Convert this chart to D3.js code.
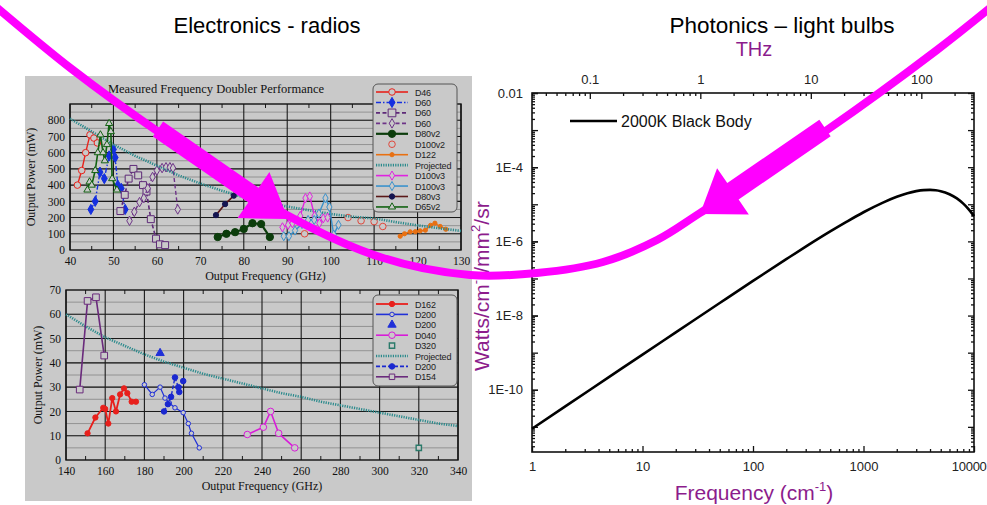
<!DOCTYPE html>
<html>
<head>
<meta charset="utf-8">
<script src="https://cdn.jsdelivr.net/npm/d3@7"></script>
<style>
  body { margin: 0; background: #fff; }
  svg { display: block; }
</style>
</head>
<body>
<svg id="chart" width="987" height="505"></svg>
<script>
// ---------------- Upper doubler panel: output power (mW) vs output frequency (GHz) ----------------
const d46      = [[41.7,400],[42.7,490],[43.6,600],[44.6,710],[45.5,690],[46.3,660]];
const d60a     = [[44.8,250],[45.8,300],[46.9,480],[47.9,440],[49.0,580],[50.0,620],[50.4,570],[51.0,400],[51.8,380],[52.7,250]];
const d60b     = [[51.6,240],[52.6,340],[53.5,440],[54.6,500],[55.7,460],[56.8,400],[57.6,360],[58.6,190],[59.8,70],[60.7,35],[61.9,30]];
const d60c     = [[53.7,180],[54.8,235],[56.0,295],[57.0,320],[57.9,380],[59.0,450],[60.0,490],[61.2,505],[62.1,510],[63.0,510],[63.7,505],[64.8,250]];
const d80v2    = [[74,80],[76,100],[78,110],[80,130],[82,165],[84,160],[86,80]];
const d100v2   = [[94,100],[104,200],[107,180],[110,175],[112,145]];
const d122     = [[116,85],[117,100],[118.3,112],[119.5,113],[120.6,118],[121.8,122],[123,152],[124,165],[125.2,145],[126.5,128]];
const projUpper = [[40,810],[45,730],[50,650],[55,580],[60,520],[65,460],[70,410],[75,365],[80,325],[85,295],[90,268],[95,245],[100,222],[105,205],[110,195],[115,172],[120,152],[125,134],[130,118]];
const d100v3m  = [[88.9,140],[90.2,155],[91.2,165],[93,210],[94.2,320],[95.2,330],[96.3,210],[97.4,165],[98.3,195],[99.3,200]];
const d100v3b  = [[89.2,85],[90.4,85],[91.8,120],[93.4,160],[94.8,185],[96.2,185],[97.3,225],[98.8,320],[99.7,265],[100.7,95],[101.8,155]];
const d80v3    = [[73.6,215],[75.7,283],[77.7,335]];
const d65v2    = [[44.0,370],[44.5,420],[45.0,400],[45.8,490],[46.4,600],[47.0,710],[47.6,600],[48.0,550],[48.5,650],[49.0,780],[49.4,730],[49.7,440],[50.8,370]];
const upperXTicks = [40,50,60,70,80,90,100,110,120,130];
const upperYTicks = [0,100,200,300,400,500,600,700,800];
const upperNames  = ["D46","D60","D60","D60","D80v2","D100v2","D122","Projected","D100v3","D100v3","D80v3","D65v2"];

// ---------------- Lower doubler panel ----------------
const d162      = [[151,11],[155,17.5],[159,21.5],[160,21],[161.6,15],[163.6,25.5],[165.5,20],[167.6,27],[169.6,29.5],[171.3,27.5],[173.5,24],[175.7,24]];
const d200      = [[180,31],[184,27],[188,30],[190.5,25.5],[192.7,23.5],[195.6,21.5],[199.8,19.5],[202.4,15],[204,11],[208,5]];
const d200tri   = [[188,44]];
const d040      = [[232.5,10.5],[240.7,13.5],[244.4,20],[248.5,11],[256.7,5]];
const d320      = [[320,5]];
const projLower = [[140,60],[150,55],[160,50.5],[170,47],[180,43.5],[190,40.5],[200,38],[210,35.5],[220,33.5],[230,31.5],[240,29.5],[250,27.5],[260,26],[270,24],[280,22.5],[290,21],[300,19.5],[310,18],[320,16.5],[330,15],[340,14]];
const d200dash  = [[190,20],[192,23],[193.6,26],[195.6,34],[197.3,30],[197.8,28],[199.8,32.5]];
const d154      = [[147,29],[151,65.5],[155.3,67],[159.5,43]];
const lowerXTicks = [140,160,180,200,220,240,260,280,300,320,340];
const lowerYTicks = [0,10,20,30,40,50,60,70];
const lowerNames  = ["D162","D200","D200","D040","D320","Projected","D200","D154"];

// ---------------- 2000 K black body spectrum ----------------
const bbWavenumber = [1,2,5,10,20,50,100,200,300,500,700,1000,1500,2000,2500,3000,3500,4000,4500,5000,6000,7000,8000,9000,10000];
const bbRadiance   = [8.9e-12,3.56e-11,2.22e-10,8.87e-10,3.52e-9,2.18e-8,8.6e-8,3.31e-7,7.2e-7,1.85e-6,3.35e-6,6.1e-6,1.11e-5,1.59e-5,1.99e-5,2.26e-5,2.41e-5,2.44e-5,2.39e-5,2.26e-5,1.87e-5,1.44e-5,1.04e-5,7.2e-6,4.8e-6];
const bbXLabels = [1,10,100,1000,10000];
const bbYLabels = [1e-2,1e-4,1e-6,1e-8,1e-10];
const thzLabels = [0.1,1,10,100];
const CM1_TO_THZ = 0.0299792458;

const SERIF = "'Liberation Serif','Times New Roman',serif";
const SANS  = "'Liberation Sans',Arial,Helvetica,sans-serif";
const PANEL = "#c9c9c9";
const PURPLE = "#8c1c8c";
const MAGENTA = "#ff00ff";

const svg = d3.select("#chart");
svg.append("rect").attr("width", 987).attr("height", 505).attr("fill", "#fff");

// section headings
svg.append("text").attr("x", 267).attr("y", 33).attr("text-anchor", "middle")
  .attr("font-family", SANS).attr("font-size", 22).text("Electronics - radios");
svg.append("text").attr("x", 782).attr("y", 33).attr("text-anchor", "middle")
  .attr("font-family", SANS).attr("font-size", 22.5).text("Photonics \u2013 light bulbs");

// gray backdrop of the doubler panels
svg.append("rect").attr("x", 25).attr("y", 76).attr("width", 447).attr("height", 425).attr("fill", PANEL);

function drawMarker(sel, s, size) {
  sel.attr("d", d3.symbol(s.symbol, size || s.size || 30)())
    .attr("fill", s.filled ? (s.mcolor || s.color) : PANEL)
    .attr("stroke", s.mcolor || s.color)
    .attr("stroke-width", s.mstroke || 1);
}

function doublerChart(cfg) {
  const x = d3.scaleLinear().domain(cfg.xDom).range([cfg.left, cfg.right]);
  const y = d3.scaleLinear().domain(cfg.yDom).range([cfg.bottom, cfg.top]);
  const g = svg.append("g");

  // minor horizontal grid
  g.selectAll(null).data(d3.range(cfg.yDom[0] + cfg.yMinor, cfg.yDom[1], cfg.yMinor)).join("line")
    .attr("x1", cfg.left).attr("x2", cfg.right)
    .attr("y1", d => y(d)).attr("y2", d => y(d))
    .attr("stroke", "#8c8c8c").attr("stroke-width", 0.9);
  // major grid
  g.selectAll(null).data(cfg.yMajor).join("line")
    .attr("x1", cfg.left).attr("x2", cfg.right)
    .attr("y1", d => y(d)).attr("y2", d => y(d))
    .attr("stroke", "#1a1a1a").attr("stroke-width", 1.1);
  g.selectAll(null).data(cfg.xTicks).join("line")
    .attr("x1", d => x(d)).attr("x2", d => x(d))
    .attr("y1", cfg.top).attr("y2", cfg.bottom)
    .attr("stroke", "#1a1a1a").attr("stroke-width", 1.1);
  // small ticks halfway between frequency grid lines
  const half = (cfg.xTicks[1] - cfg.xTicks[0]) / 2;
  const mids = cfg.xTicks.slice(0, -1).map(v => v + half);
  g.selectAll(null).data(mids).join("line")
    .attr("x1", d => x(d)).attr("x2", d => x(d)).attr("y1", cfg.top).attr("y2", cfg.top + 4)
    .attr("stroke", "#1a1a1a");
  g.selectAll(null).data(mids).join("line")
    .attr("x1", d => x(d)).attr("x2", d => x(d)).attr("y1", cfg.bottom).attr("y2", cfg.bottom - 4)
    .attr("stroke", "#1a1a1a");

  // frame
  g.append("rect").attr("x", cfg.left).attr("y", cfg.top)
    .attr("width", cfg.right - cfg.left).attr("height", cfg.bottom - cfg.top)
    .attr("fill", "none").attr("stroke", "#111").attr("stroke-width", 1.4);

  // axes (labels only, grid already drawn)
  const ax = g.append("g").attr("transform", `translate(0,${cfg.bottom})`)
    .call(d3.axisBottom(x).tickValues(cfg.xTicks).tickSize(0).tickPadding(7));
  const ay = g.append("g").attr("transform", `translate(${cfg.left},0)`)
    .call(d3.axisLeft(y).tickValues(cfg.yTicks).tickSize(0).tickPadding(5));
  [ax, ay].forEach(a => {
    a.select(".domain").remove();
    a.selectAll("text").attr("font-family", SERIF).attr("font-size", 11.5).attr("fill", "#111");
  });

  // axis titles
  g.append("text").attr("x", (cfg.left + cfg.right) / 2).attr("y", cfg.bottom + 30)
    .attr("text-anchor", "middle").attr("font-family", SERIF).attr("font-size", 12).attr("fill", "#111")
    .text("Output Frequency  (GHz)");
  g.append("text").attr("transform", `translate(${cfg.yTitleX},${(cfg.top + cfg.bottom) / 2 + cfg.yTitleShift}) rotate(-90)`)
    .attr("text-anchor", "middle").attr("font-family", SERIF).attr("font-size", 12).attr("fill", "#111")
    .text("Output Power  (mW)");

  // data series
  const line = d3.line().x(d => x(d[0])).y(d => y(d[1]));
  cfg.series.forEach(s => {
    if (s.lineW) {
      g.append("path").datum(s.data).attr("d", line)
        .attr("fill", "none").attr("stroke", s.color).attr("stroke-width", s.lineW)
        .attr("stroke-dasharray", s.dash || null).attr("stroke-linejoin", "round");
    }
    if (s.symbol) {
      g.selectAll(null).data(s.data).join("path")
        .attr("transform", d => `translate(${x(d[0])},${y(d[1])})`)
        .call(sel => drawMarker(sel, s));
    }
  });

  // legend
  const L = cfg.legend;
  g.append("rect").attr("x", L.x).attr("y", L.y).attr("width", L.w).attr("height", L.h)
    .attr("rx", 5).attr("fill", PANEL).attr("stroke", "#555").attr("stroke-width", 1);
  cfg.series.forEach((s, i) => {
    const yy = L.row0 + i * L.step;
    if (s.lineW) {
      g.append("line").attr("x1", L.x + 3).attr("x2", L.x + 35).attr("y1", yy).attr("y2", yy)
        .attr("stroke", s.color).attr("stroke-width", Math.max(s.lineW, 1.6))
        .attr("stroke-dasharray", s.dash || null);
    }
    if (s.symbol) {
      g.append("path").attr("transform", `translate(${L.x + 19},${yy})`)
        .call(sel => drawMarker(sel, s, s.legendSize || s.size));
    }
    g.append("text").attr("x", L.x + 42).attr("y", yy + 3.5)
      .attr("font-family", SANS).attr("font-size", 9).attr("fill", "#222")
      .attr("letter-spacing", -0.2).text(cfg.names[i]);
  });
  return { x, y };
}

// upper panel
svg.append("text").attr("x", 216).attr("y", 93).attr("text-anchor", "middle")
  .attr("font-family", SERIF).attr("font-size", 12.5).attr("fill", "#111")
  .text("Measured Frequency Doubler Performance");

doublerChart({
  xDom: [40, 130], yDom: [0, 900], left: 70, right: 461, top: 104, bottom: 250,
  xTicks: upperXTicks, yTicks: upperYTicks, yMajor: d3.range(100, 900, 100), yMinor: 50,
  yTitleX: 35, yTitleShift: 0, names: upperNames,
  legend: { x: 373, y: 84, w: 84, h: 128, row0: 92, step: 10.45 },
  series: [
    { data: d46,     color: "#e8231c", lineW: 1.4, symbol: d3.symbolCircle, size: 34 },
    { data: d60a,    color: "#1530e0", lineW: 1.4, dash: "5,2,1.5,2", symbol: d3.symbolDiamond, size: 30, filled: true },
    { data: d60b,    color: "#5e2a78", lineW: 1.6, dash: "4,2.5", symbol: d3.symbolSquare, size: 48, legendSize: 60 },
    { data: d60c,    color: "#6e3488", lineW: 1.4, dash: "4,2.5", symbol: d3.symbolDiamond, size: 26 },
    { data: d80v2,   color: "#0c3d0c", lineW: 2.2, symbol: d3.symbolCircle, size: 42, filled: true },
    { data: d100v2,  color: "#e0483c", symbol: d3.symbolCircle, size: 34 },
    { data: d122,    color: "#e87012", lineW: 1.4, symbol: d3.symbolCircle, size: 14, filled: true },
    { data: projUpper, color: "#2a8a8c", lineW: 2.6, dash: "1.2,1.2" },
    { data: d100v3m, color: "#e023e0", lineW: 1.4, symbol: d3.symbolDiamond, size: 24 },
    { data: d100v3b, color: "#3a92cc", lineW: 1.4, symbol: d3.symbolDiamond, size: 24 },
    { data: d80v3,   color: "#5a1818", lineW: 1.6, symbol: d3.symbolCircle, size: 22, filled: true, mcolor: "#141450" },
    { data: d65v2,   color: "#126212", lineW: 1.6, symbol: d3.symbolTriangle, size: 22 }
  ]
});

// lower panel
doublerChart({
  xDom: [140, 340], yDom: [0, 70], left: 66, right: 458, top: 290, bottom: 460,
  xTicks: lowerXTicks, yTicks: lowerYTicks, yMajor: d3.range(10, 70, 10), yMinor: 5,
  yTitleX: 42, yTitleShift: 0, names: lowerNames,
  legend: { x: 373, y: 295, w: 84, h: 91, row0: 304, step: 10.4 },
  series: [
    { data: d162,     color: "#e8201c", lineW: 1.8, symbol: d3.symbolCircle, size: 22, filled: true },
    { data: d200,     color: "#2030d8", lineW: 1.2, symbol: d3.symbolCircle, size: 16 },
    { data: d200tri,  color: "#2030d8", symbol: d3.symbolTriangle, size: 30, filled: true },
    { data: d040,     color: "#d81cd8", lineW: 1.6, symbol: d3.symbolCircle, size: 34 },
    { data: d320,     color: "#2a7a6a", symbol: d3.symbolSquare, size: 28, mstroke: 1.4 },
    { data: projLower, color: "#2a8a8c", lineW: 2.6, dash: "1.2,1.2" },
    { data: d200dash, color: "#1a28d0", lineW: 1.4, dash: "4,2", symbol: d3.symbolCircle, size: 24, filled: true },
    { data: d154,     color: "#6a2a7c", lineW: 1.6, symbol: d3.symbolSquare, size: 44, legendSize: 30 }
  ]
});

// ---------------- Black body chart ----------------
const R = { left: 532, right: 974, top: 93, bottom: 452 };
const xR = d3.scaleLog().domain([1, 10000]).range([R.left, R.right]);
const yR = d3.scaleLog().domain([2.1e-12, 1e-2]).range([R.bottom, R.top]);
const xT = d3.scaleLog().domain([1 * CM1_TO_THZ, 10000 * CM1_TO_THZ]).range([R.left, R.right]);
const gR = svg.append("g");

function logMinors(scale) {
  const [a, b] = scale.domain();
  const out = [];
  for (let e = Math.floor(Math.log10(a)); e <= Math.ceil(Math.log10(b)); e++) {
    for (let m = 2; m <= 9; m++) {
      const v = m * Math.pow(10, e);
      if (v > a * 1.0001 && v < b * 0.9999) out.push(v);
    }
  }
  return out;
}
function logDecades(scale) {
  const [a, b] = scale.domain();
  return d3.range(Math.ceil(Math.log10(a) - 1e-9), Math.floor(Math.log10(b) + 1e-9) + 1).map(e => Math.pow(10, e));
}
function styleAxis(a, size) {
  a.select(".domain").remove();
  a.selectAll("line").attr("stroke", "#111").attr("stroke-width", 1.3);
  a.selectAll("text").attr("font-family", SANS).attr("font-size", size || 13).attr("fill", "#222");
  return a;
}
const fmtE = v => v === 1e-2 ? "0.01" : "1E" + Math.round(Math.log10(v));

// bottom axis (cm^-1)
styleAxis(gR.append("g").attr("transform", `translate(0,${R.bottom})`)
  .call(d3.axisBottom(xR).tickValues(logMinors(xR)).tickSize(-3).tickFormat("")));
const bx = styleAxis(gR.append("g").attr("transform", `translate(0,${R.bottom})`)
  .call(d3.axisBottom(xR).tickValues(bbXLabels).tickSize(-6).tickPadding(10).tickFormat(d3.format("d"))));
// the last label runs into the window's right edge; keep it inside
bx.selectAll("text").filter(d => d === 10000).attr("text-anchor", "end").attr("x", 987 - R.right - 1)
  .attr("letter-spacing", -0.3);
// top axis (THz)
styleAxis(gR.append("g").attr("transform", `translate(0,${R.top})`)
  .call(d3.axisTop(xT).tickValues(logMinors(xT)).tickSize(-3).tickFormat("")));
styleAxis(gR.append("g").attr("transform", `translate(0,${R.top})`)
  .call(d3.axisTop(xT).tickValues(thzLabels).tickSize(-6).tickPadding(9).tickFormat(d => String(d))));
// left axis
styleAxis(gR.append("g").attr("transform", `translate(${R.left},0)`)
  .call(d3.axisLeft(yR).tickValues(logMinors(yR)).tickSize(-3).tickFormat("")));
styleAxis(gR.append("g").attr("transform", `translate(${R.left},0)`)
  .call(d3.axisLeft(yR).tickValues(logDecades(yR)).tickSize(-6).tickFormat("")));
styleAxis(gR.append("g").attr("transform", `translate(${R.left},0)`)
  .call(d3.axisLeft(yR).tickValues(bbYLabels).tickSize(-6).tickPadding(9).tickFormat(fmtE)));
// right axis mirror
styleAxis(gR.append("g").attr("transform", `translate(${R.right},0)`)
  .call(d3.axisRight(yR).tickValues(logMinors(yR)).tickSize(-3).tickFormat("")));
styleAxis(gR.append("g").attr("transform", `translate(${R.right},0)`)
  .call(d3.axisRight(yR).tickValues(logDecades(yR)).tickSize(-6).tickFormat("")));

gR.append("rect").attr("x", R.left).attr("y", R.top)
  .attr("width", R.right - R.left).attr("height", R.bottom - R.top)
  .attr("fill", "none").attr("stroke", "#111").attr("stroke-width", 1.6);

// black body curve
gR.append("path").datum(d3.zip(bbWavenumber, bbRadiance))
  .attr("d", d3.line().x(d => xR(d[0])).y(d => yR(d[1])).curve(d3.curveMonotoneX))
  .attr("fill", "none").attr("stroke", "#000").attr("stroke-width", 2.6);

// legend
gR.append("line").attr("x1", 570).attr("x2", 617).attr("y1", 121).attr("y2", 121)
  .attr("stroke", "#000").attr("stroke-width", 2.6);
gR.append("text").attr("x", 621).attr("y", 127).attr("font-family", SANS).attr("font-size", 16)
  .attr("fill", "#111").text("2000K Black Body");

// titles
gR.append("text").attr("x", 754).attr("y", 56).attr("text-anchor", "middle")
  .attr("font-family", SANS).attr("font-size", 20).attr("fill", PURPLE).text("THz");
const xt = gR.append("text").attr("x", 754).attr("y", 500).attr("text-anchor", "middle")
  .attr("font-family", SANS).attr("font-size", 21).attr("fill", PURPLE);
xt.append("tspan").text("Frequency (cm");
xt.append("tspan").attr("font-size", 13).attr("dy", -9).text("-1");
xt.append("tspan").attr("dy", 9).text(")");
const yt = gR.append("text").attr("transform", "translate(489,371) rotate(-90)")
  .attr("font-family", SANS).attr("font-size", 21).attr("fill", PURPLE);
yt.append("tspan").text("Watts/cm");
yt.append("tspan").attr("font-size", 13).attr("dy", -9).text("-1");
yt.append("tspan").attr("dy", 9).text("/mm");
yt.append("tspan").attr("font-size", 13).attr("dy", -9).text("2");
yt.append("tspan").attr("dy", 9).text("/sr");

// ---------------- Magenta annotation: connecting curve and two arrows ----------------
const gapPath = [[-12,0],[73,70],[160,133],[285,214],[380,257],[470,275],[537,273],[603,262],[657,240],[700,213],[827,130],[937,50],[990,8]];
svg.append("path").datum(gapPath)
  .attr("d", d3.line().curve(d3.curveCatmullRom.alpha(0.5)))
  .attr("fill", "none").attr("stroke", MAGENTA).attr("stroke-width", 8);

function arrow(from, tip, shaftW, headL, headW) {
  const dx = tip[0] - from[0], dy = tip[1] - from[1];
  const len = Math.hypot(dx, dy);
  const ux = dx / len, uy = dy / len, nx = -uy, ny = ux;
  const bx = tip[0] - ux * headL, by = tip[1] - uy * headL;
  const p = [
    [from[0] + nx * shaftW / 2, from[1] + ny * shaftW / 2],
    [bx + nx * shaftW / 2, by + ny * shaftW / 2],
    [bx + nx * headW / 2, by + ny * headW / 2],
    tip,
    [bx - nx * headW / 2, by - ny * headW / 2],
    [bx - nx * shaftW / 2, by - ny * shaftW / 2],
    [from[0] - nx * shaftW / 2, from[1] - ny * shaftW / 2]
  ];
  svg.append("path").attr("d", "M" + p.map(q => q.join(",")).join("L") + "Z").attr("fill", MAGENTA);
}
arrow([158, 129], [288, 219], 18, 42, 56);
arrow([825, 128], [700, 214], 20, 40, 56);
</script>
</body>
</html>
